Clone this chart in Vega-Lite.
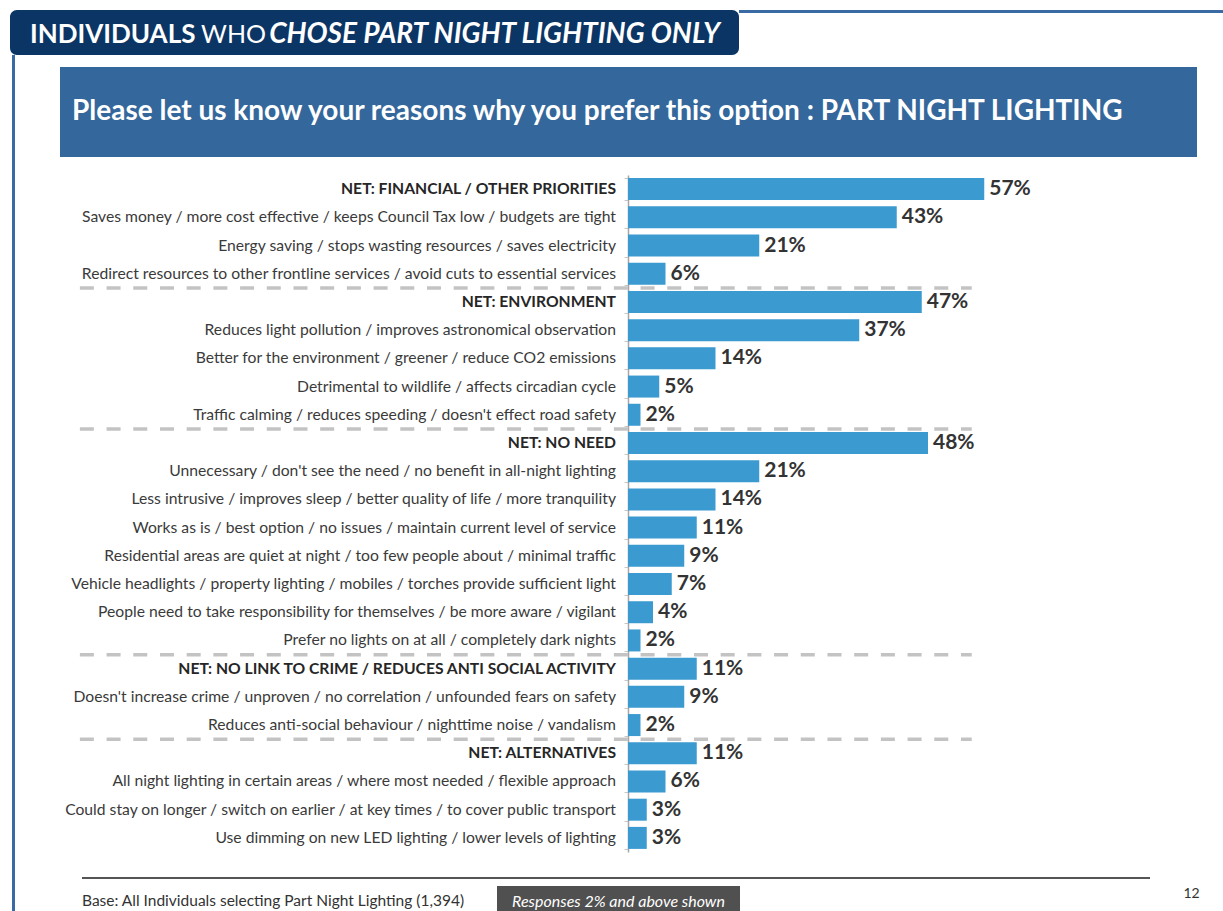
{
  "$schema": "https://vega.github.io/schema/vega-lite/v6.json",
  "background": "white",
  "padding": {"left": 10, "top": 10, "right": 0, "bottom": 0},
  "spacing": 0,
  "config": {"view": {"stroke": null}, "concat": {"spacing": 0}, "font": "Lato"},
  "datasets": {
    "rows": [
      {"label": "NET: FINANCIAL / OTHER PRIORITIES", "pct": 0.57, "net": true, "sep": false},
      {"label": "Saves money / more cost effective / keeps Council Tax low / budgets are tight", "pct": 0.43, "net": false, "sep": false},
      {"label": "Energy saving / stops wasting resources / saves electricity", "pct": 0.21, "net": false, "sep": false},
      {"label": "Redirect resources to other frontline services / avoid cuts to essential services", "pct": 0.06, "net": false, "sep": false},
      {"label": "NET: ENVIRONMENT", "pct": 0.47, "net": true, "sep": true},
      {"label": "Reduces light pollution / improves astronomical observation", "pct": 0.37, "net": false, "sep": false},
      {"label": "Better for the environment / greener / reduce CO2 emissions", "pct": 0.14, "net": false, "sep": false},
      {"label": "Detrimental to wildlife / affects circadian cycle", "pct": 0.05, "net": false, "sep": false},
      {"label": "Traffic calming / reduces speeding / doesn't effect road safety", "pct": 0.02, "net": false, "sep": false},
      {"label": "NET: NO NEED", "pct": 0.48, "net": true, "sep": true},
      {"label": "Unnecessary / don't see the need / no benefit in all-night lighting", "pct": 0.21, "net": false, "sep": false},
      {"label": "Less intrusive / improves sleep / better quality of life / more tranquility", "pct": 0.14, "net": false, "sep": false},
      {"label": "Works as is / best option / no issues /  maintain current level of service", "pct": 0.11, "net": false, "sep": false},
      {"label": "Residential areas are quiet at night / too few people about / minimal traffic", "pct": 0.09, "net": false, "sep": false},
      {"label": "Vehicle headlights  / property lighting / mobiles / torches provide sufficient light", "pct": 0.07, "net": false, "sep": false},
      {"label": "People need to take responsibility for themselves / be more aware / vigilant", "pct": 0.04, "net": false, "sep": false},
      {"label": "Prefer no lights on at all / completely dark nights", "pct": 0.02, "net": false, "sep": false},
      {"label": "NET: NO LINK TO CRIME / REDUCES ANTI SOCIAL ACTIVITY", "pct": 0.11, "net": true, "sep": true},
      {"label": "Doesn't increase crime / unproven / no correlation / unfounded fears on safety", "pct": 0.09, "net": false, "sep": false},
      {"label": "Reduces anti-social behaviour / nighttime noise / vandalism", "pct": 0.02, "net": false, "sep": false},
      {"label": "NET: ALTERNATIVES", "pct": 0.11, "net": true, "sep": true},
      {"label": "All night lighting in certain areas / where most needed / flexible approach", "pct": 0.06, "net": false, "sep": false},
      {"label": "Could stay on longer / switch on earlier / at key times / to cover public transport", "pct": 0.03, "net": false, "sep": false},
      {"label": "Use dimming on new LED lighting / lower levels of lighting", "pct": 0.03, "net": false, "sep": false}
    ]
  },
  "vconcat": [
    {
      "spacing": 0,
      "hconcat": [
        {
          "width": 729, "height": 45,
          "view": {"fill": "#0b3565", "cornerRadius": 7},
          "data": {"values": [{}]},
          "layer": [
            {"mark": {"type": "text", "text": "INDIVIDUALS", "align": "left", "baseline": "middle", "dx": -344.5, "dy": 2, "fontSize": 26, "fontWeight": "bold", "color": "white"}},
            {"mark": {"type": "text", "text": "WHO", "align": "left", "baseline": "middle", "dx": -173.5, "dy": 2, "fontSize": 25, "fontWeight": "normal", "color": "white"}},
            {"mark": {"type": "text", "text": "CHOSE PART NIGHT LIGHTING ONLY", "align": "right", "baseline": "middle", "dx": 345.5, "dy": 2, "fontSize": 28, "fontWeight": "bold", "fontStyle": "italic", "color": "white"}}
          ]
        },
        {
          "width": 484, "height": 3,
          "view": {"fill": "#3a6aa3"},
          "data": {"values": [{}]},
          "mark": {"type": "text", "text": "", "fontSize": 0}
        }
      ]
    },
    {
      "spacing": 0,
      "hconcat": [
        {"width": 2, "height": 856, "data": {"values": [{}]}, "mark": {"type": "text", "text": "", "fontSize": 0}},
        {"width": 3, "height": 856, "view": {"fill": "#3a6aa3"}, "data": {"values": [{}]}, "mark": {"type": "text", "text": "", "fontSize": 0}},
        {"width": 45, "height": 856, "data": {"values": [{}]}, "mark": {"type": "text", "text": "", "fontSize": 0}},
        {
          "spacing": 0,
          "vconcat": [
            {"width": 1137, "height": 12, "data": {"values": [{}]}, "mark": {"type": "text", "text": "", "fontSize": 0}},
            {
              "width": 1137, "height": 90,
              "view": {"fill": "#34679b"},
              "data": {"values": [{}]},
              "mark": {"type": "text", "text": "Please let us know your reasons why you prefer this option : PART NIGHT LIGHTING", "align": "left", "baseline": "middle", "dx": -556.5, "dy": 0, "fontSize": 28, "fontWeight": "bold", "color": "white"}
            },
            {"width": 1137, "height": 18, "data": {"values": [{}]}, "mark": {"type": "text", "text": "", "fontSize": 0}},
            {
              "width": 1137, "height": 677,
              "data": {"name": "rows"},
              "encoding": {
                "y": {"field": "label", "type": "nominal", "sort": null,
                      "scale": {"paddingInner": 0.22, "paddingOuter": 0.11},
                      "axis": {"orient": "left", "offset": -568, "labels": false, "title": null, "ticks": true, "tickBand": "extent", "tickSize": 4, "tickColor": "#c8c8c8", "domainColor": "#a6a6a6", "domainWidth": 1.5, "grid": false}}
              },
              "layer": [
                {
                  "mark": {"type": "bar", "color": "#3b9ad0"},
                  "encoding": {
                    "x": {"field": "pct", "type": "quantitative", "scale": {"domain": [-0.9088, 0.9104], "nice": false, "zero": false}, "axis": null},
                    "x2": {"datum": 0}
                  }
                },
                {
                  "transform": [{"filter": "datum.sep"}],
                  "mark": {"type": "rule", "color": "#c3c3c3", "strokeWidth": 3.5, "strokeDash": [14, 12.7], "yOffset": -3},
                  "encoding": {
                    "y": {"field": "label", "type": "nominal", "sort": null, "bandPosition": 0},
                    "x": {"datum": -0.877},
                    "x2": {"datum": 0.55}
                  }
                },
                {
                  "transform": [{"filter": "!datum.net"}],
                  "mark": {"type": "text", "align": "right", "baseline": "middle", "dx": -12, "fontSize": 15.7, "color": "#3a3a3a"},
                  "encoding": {"x": {"datum": 0}, "text": {"field": "label"}}
                },
                {
                  "transform": [{"filter": "datum.net"}],
                  "mark": {"type": "text", "align": "right", "baseline": "middle", "dx": -12, "fontSize": 15.7, "fontWeight": "bold", "color": "#262626"},
                  "encoding": {"x": {"datum": 0}, "text": {"field": "label"}}
                },
                {
                  "mark": {"type": "text", "align": "left", "baseline": "middle", "dx": 5, "fontSize": 21, "fontWeight": "bold", "color": "#333333"},
                  "encoding": {
                    "x": {"field": "pct", "type": "quantitative"},
                    "text": {"field": "pct", "type": "quantitative", "format": ".0%"}
                  }
                }
              ]
            },
            {"width": 1137, "height": 25, "data": {"values": [{}]}, "mark": {"type": "text", "text": "", "fontSize": 0}},
            {
              "spacing": 0,
              "hconcat": [
                {"width": 22, "height": 2, "data": {"values": [{}]}, "mark": {"type": "text", "text": "", "fontSize": 0}},
                {"width": 1068, "height": 2, "view": {"fill": "#555555"}, "data": {"values": [{}]}, "mark": {"type": "text", "text": "", "fontSize": 0}}
              ]
            },
            {
              "spacing": 0,
              "hconcat": [
                {"width": 22, "height": 32, "data": {"values": [{}]}, "mark": {"type": "text", "text": "", "fontSize": 0}},
                {
                  "width": 415, "height": 32, "data": {"values": [{}]},
                  "mark": {"type": "text", "text": "Base: All Individuals selecting Part Night Lighting (1,394)", "align": "left", "baseline": "middle", "dx": -207.5, "dy": 6, "fontSize": 15.5, "color": "#333333"}
                },
                {
                  "spacing": 0,
                  "vconcat": [
                    {"width": 243, "height": 7, "data": {"values": [{}]}, "mark": {"type": "text", "text": "", "fontSize": 0}},
                    {
                      "width": 243, "height": 25, "view": {"fill": "#505050"}, "data": {"values": [{}]},
                      "mark": {"type": "text", "text": "Responses 2% and above shown", "align": "center", "baseline": "middle", "dy": 3, "fontSize": 16, "fontStyle": "italic", "color": "white"}
                    }
                  ]
                },
                {"width": 443, "height": 32, "data": {"values": [{}]}, "mark": {"type": "text", "text": "", "fontSize": 0}},
                {
                  "width": 15, "height": 32, "data": {"values": [{}]},
                  "mark": {"type": "text", "text": "12", "align": "center", "baseline": "middle", "dy": -1, "fontSize": 14, "color": "#333333"}
                }
              ]
            }
          ]
        }
      ]
    }
  ]
}
